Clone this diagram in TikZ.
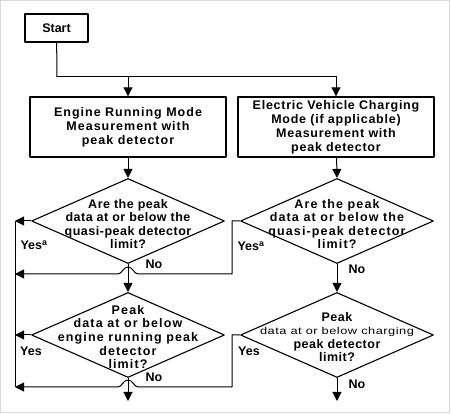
\documentclass[tikz,border=0pt]{standalone}
\usepackage{fontspec}
\setmainfont{Liberation Sans}
\usepackage{graphicx}
\usetikzlibrary{shapes.geometric,arrows.meta}

\tikzset{
  flowbox/.style={draw,line width=1.3pt,minimum width=196pt,minimum height=60pt,inner sep=0pt,align=center},
  startbox/.style={draw,line width=1.3pt,minimum width=63pt,minimum height=28pt,inner sep=0pt,
    font=\bfseries\fontsize{12.5}{14}\selectfont},
  spaced/.style={font=\bfseries\fontsize{12.5}{14}\selectfont\addfontfeature{LetterSpace=#1}},
  decision/.style={draw,diamond,line width=1.1pt,minimum width=193pt,minimum height=85pt,inner sep=0pt},
  qtext/.style={align=center,inner sep=0pt,
    font=\bfseries\fontsize{12.5}{13.6}\selectfont\addfontfeature{LetterSpace=#1}},
  answer/.style={inner sep=0pt,font=\bfseries\fontsize{12.5}{14}\selectfont},
  flow/.style={line width=1pt},
  hop/.style={insert path={.. controls +(-4,0) and +(5,0) .. ++(-10,-7) .. controls +(-5,0) and +(4,0) .. ++(-10,7)}}
}

\begin{document}
\begin{tikzpicture}[x=1pt,y=-1pt,line join=round,>={Triangle[length=9pt,width=9pt]}]
  \useasboundingbox (0,0) rectangle (451,414);
  \draw[black!15,line width=1pt] (0.5,0.5) rectangle (449.5,412.5);

  % boxes
  \node[startbox] (start) at (56.5,28) {Start};
  \node[flowbox,spaced=8] (engine) at (128,127) {Engine Running Mode\\Measurement with\\peak detector};
  \node[flowbox,spaced=6] (charge) at (336,127) {Electric Vehicle Charging\\Mode (if applicable)\\Measurement with\\peak detector};

  % decisions
  \node[decision] (qp1) at (128,221) {};
  \node[qtext=4] (qp1t) at (128,224) {Are the peak\\data at or below the\\quasi-peak detector\\limit?};
  \node[decision] (qp2) at (337,221) {};
  \node[qtext=9] (qp2t) at (337,224) {Are the peak\\data at or below the\\quasi-peak detector\\limit?};
  \node[decision] (pk1) at (128,335) {};
  \node[qtext=9] (pk1t) at (128,337) {Peak\\data at or below\\engine running peak\\detector\\limit?};
  \node[decision] (pk2) at (337,335) {};
  \node[qtext=4] (pk2t) at (337,337) {Peak\\{\mdseries\fontsize{10}{12}\selectfont\scalebox{1.28}[1]{data at or below charging}}\\peak detector\\limit?};

  \coordinate (split) at (57,77);
  \coordinate (busA) at (15,221);
  \coordinate (busB) at (15,274);
  \coordinate (busC) at (15,335);
  \coordinate (busD) at (15,387);
  \coordinate (turnA) at (232,274);
  \coordinate (turnB) at (232,387);
  \coordinate (endL) at (128,401);
  \coordinate (endR) at (337,401);

  % connectors
  \draw[flow] (start) -- (split);
  \draw[flow,->] (split) -| (engine.north);
  \draw[flow,->] (split) -| (charge.north);
  \draw[flow,->] (engine) -- (qp1.north);
  \draw[flow,->] (charge) -- (qp2.north);
  \draw[flow] (busA) -- (busD);
  \draw[flow,->] (qp1.west) -- (busA);
  \draw[flow,->] (pk1.west) -- (busC);
  \draw[flow,->] (qp1.south) -- (pk1.north);
  \draw[flow,->] (qp2.south) -- (pk2.north);
  \draw[flow,->] (pk1.south) -- (endL);
  \draw[flow,->] (pk2.south) -- (endR);
  \draw[flow,->] (qp2.west) -| (turnA) -- ([xshift=10pt]qp1.south |- turnA) [hop] -- (busB);
  \draw[flow,->] (pk2.west) -| (turnB) -- ([xshift=10pt]pk1.south |- turnB) [hop] -- (busD);

  % answers
  \node[answer] (yes1) at (34,245) {Yes\textsuperscript{a}};
  \node[answer] (no1) at (154,264) {No};
  \node[answer] (yes2) at (251,246) {Yes\textsuperscript{a}};
  \node[answer] (no2) at (357,269) {No};
  \node[answer] (yes3) at (31,351) {Yes};
  \node[answer] (no3) at (154,377) {No};
  \node[answer] (yes4) at (249,351) {Yes};
  \node[answer] (no4) at (357,384) {No};
\end{tikzpicture}
\end{document}
